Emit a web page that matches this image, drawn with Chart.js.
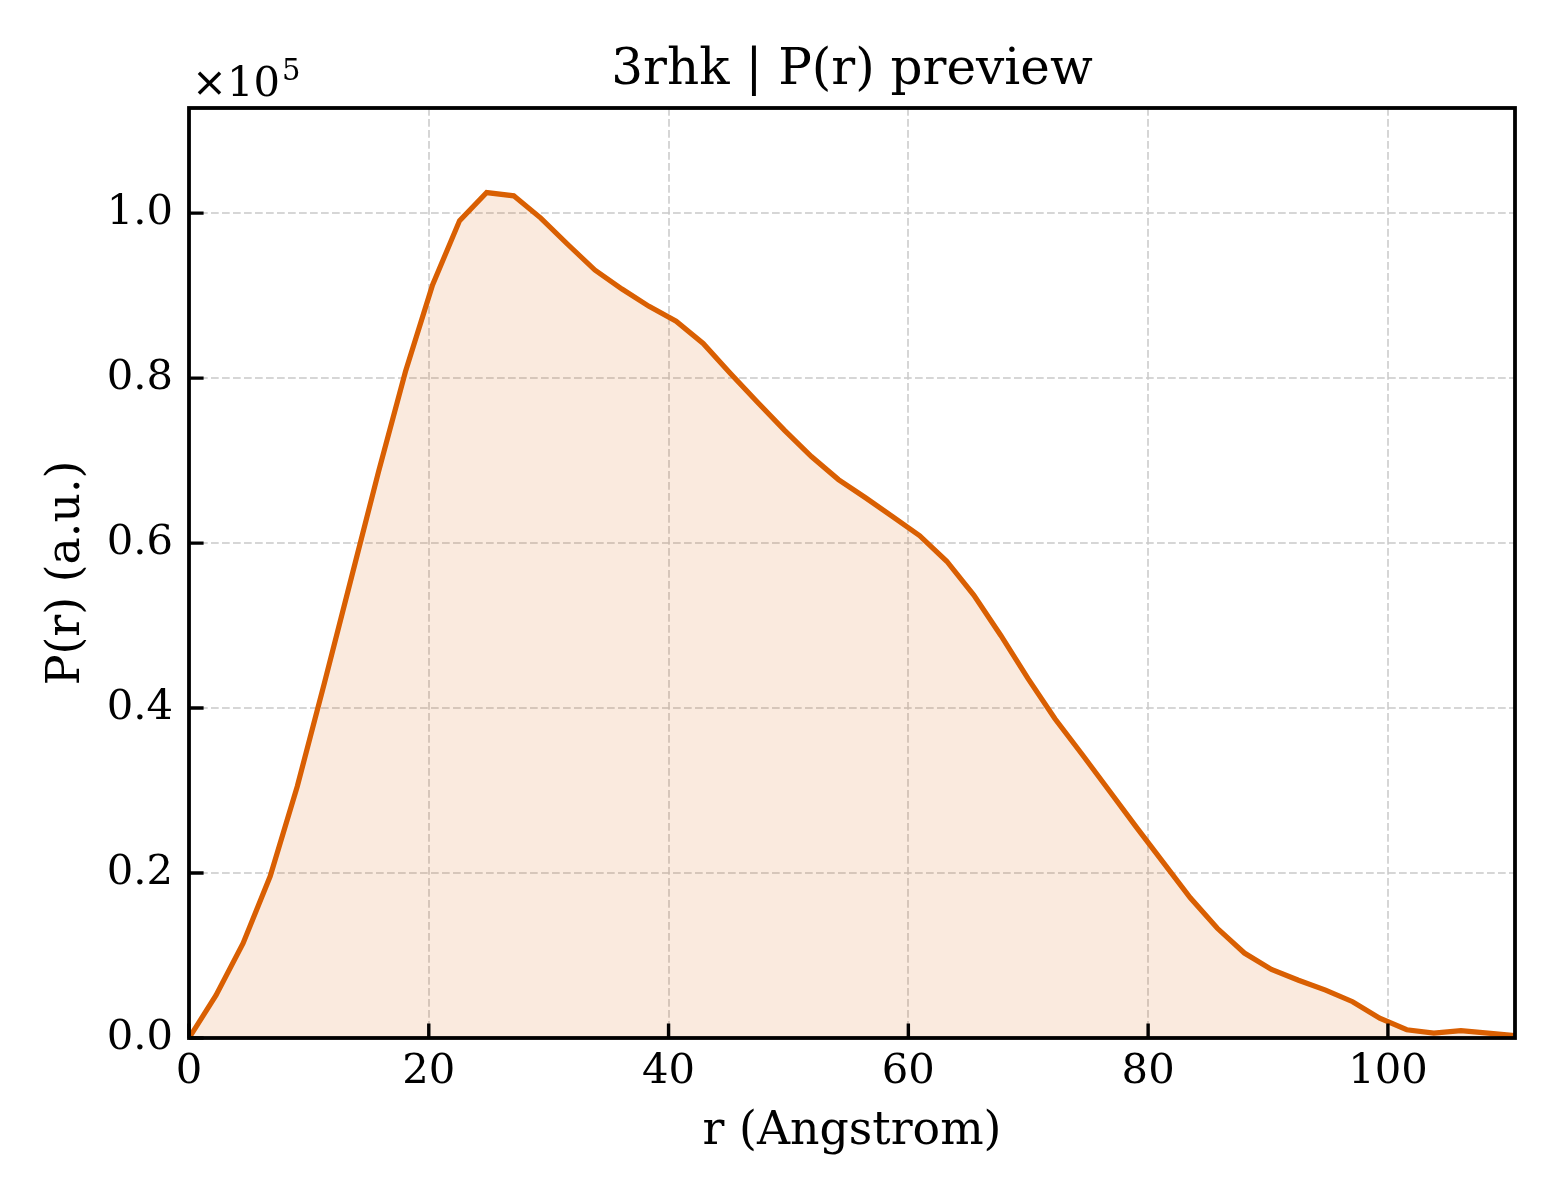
<!DOCTYPE html>
<html><head><meta charset="utf-8">
<script src="https://cdn.jsdelivr.net/npm/chart.js@4.4.1/dist/chart.umd.min.js"></script>
<style>html,body{margin:0;padding:0;background:#fff}canvas{display:block}</style>
</head><body>
<canvas id="c" width="1560" height="1200"></canvas>
<script>
// r (Angstrom)
const rValues = [0, 2.257, 4.514, 6.771, 9.029, 11.286, 13.543, 15.800, 18.057, 20.314,
  22.571, 24.829, 27.086, 29.343, 31.600, 33.857, 36.114, 38.371, 40.629, 42.886,
  45.143, 47.400, 49.657, 51.914, 54.171, 56.429, 58.686, 60.943, 63.200, 65.457,
  67.714, 69.971, 72.229, 74.486, 76.743, 79.000, 81.257, 83.514, 85.771, 88.029,
  90.286, 92.543, 94.800, 97.057, 99.314, 101.571, 103.829, 106.086, 108.343, 110.600];
// P(r) (a.u.)
const pValues = [0, 5200, 11500, 19600, 30500, 43000, 55800, 68600, 80800, 91300,
  99100, 102500, 102100, 99400, 96200, 93100, 90800, 88700, 86900, 84200,
  80600, 77100, 73700, 70500, 67700, 65500, 63200, 60900, 57800, 53700,
  48800, 43600, 38700, 34400, 30000, 25600, 21300, 17000, 13300, 10300,
  8300, 7000, 5800, 4400, 2400, 1000, 600, 900, 600, 300];
const xTickValues = [0, 20, 40, 60, 80, 100];
const yTickValues = [0, 20000, 40000, 60000, 80000, 100000];
const xMax = 110.6;
const yMax = 112750;
const titleText = '3rhk | P(r) preview';
const xLabel = 'r (Angstrom)';
const yLabel = 'P(r) (a.u.)';

const FONT = "'DejaVu Serif', serif";
const LINE = '#d95f02';

const framePlugin = {
  id: 'frame',
  afterDraw(chart) {
    const {ctx, chartArea: a, scales} = chart;
    ctx.save();
    ctx.strokeStyle = '#000';
    ctx.lineWidth = 3.4;
    // inward ticks
    ctx.beginPath();
    scales.x.ticks.forEach(t => {
      const px = scales.x.getPixelForValue(t.value);
      ctx.moveTo(px, a.bottom);
      ctx.lineTo(px, a.bottom - 14.6);
    });
    scales.y.ticks.forEach(t => {
      const py = scales.y.getPixelForValue(t.value);
      ctx.moveTo(a.left, py);
      ctx.lineTo(a.left + 14.6, py);
    });
    ctx.stroke();
    // spines
    ctx.lineWidth = 3.8;
    ctx.strokeRect(a.left, a.top, a.right - a.left, a.bottom - a.top);
    // offset text
    ctx.fillStyle = '#000';
    ctx.textBaseline = 'alphabetic';
    ctx.textAlign = 'left';
    ctx.font = "41.7px 'DejaVu Sans'";
    ctx.fillText('\u00d7', a.left + 3, 96);
    const wx = ctx.measureText('\u00d7').width;
    ctx.font = "41.7px " + FONT;
    ctx.fillText('10', a.left + 3 + wx, 96);
    const w10 = ctx.measureText('10').width;
    ctx.font = "29px " + FONT;
    ctx.fillText('5', a.left + 5 + wx + w10, 80);
    ctx.restore();
  }
};

new Chart(document.getElementById('c'), {
  type: 'line',
  data: {
    datasets: [{
      data: rValues.map((r, i) => ({x: r, y: pValues[i]})),
      borderColor: LINE,
      borderWidth: 5.2,
      backgroundColor: 'rgba(217,95,2,0.13)',
      fill: 'origin',
      pointRadius: 0,
      tension: 0
    }]
  },
  options: {
    responsive: false,
    animation: false,
    devicePixelRatio: 1,
    layout: {padding: {left: 0, right: 45, top: 0, bottom: 0}},
    plugins: {
      legend: {display: false},
      tooltip: {enabled: false},
      title: {
        display: true, text: titleText, color: '#000', fullSize: false,
        font: {family: FONT, size: 50, weight: 'normal', lineHeight: 1.2},
        padding: {top: 41, bottom: 7}
      }
    },
    scales: {
      x: {
        type: 'linear', min: 0, max: xMax,
        afterBuildTicks: s => { s.ticks = xTickValues.map(v => ({value: v})); },
        ticks: {
          color: '#000', font: {family: FONT, size: 41.7}, padding: 9,
          maxRotation: 0, autoSkip: false, includeBounds: false,
          callback: v => String(v)
        },
        grid: {color: 'rgba(200,200,200,0.75)', lineWidth: 2, drawTicks: false},
        border: {display: false, dash: [7.7, 3.3]},
        title: {display: true, text: xLabel, color: '#000',
          font: {family: FONT, size: 45.8, lineHeight: 1.2}, padding: {top: 0, bottom: 40}},
        afterFit: s => { s.height = 162; }
      },
      y: {
        type: 'linear', min: 0, max: yMax,
        afterBuildTicks: s => { s.ticks = yTickValues.map(v => ({value: v})); },
        ticks: {
          color: '#000', font: {family: FONT, size: 41.7}, padding: 16,
          autoSkip: false, includeBounds: false,
          callback: v => (v / 1e5).toFixed(1)
        },
        grid: {color: 'rgba(200,200,200,0.75)', lineWidth: 2, drawTicks: false},
        border: {display: false, dash: [7.7, 3.3]},
        title: {display: true, text: yLabel, color: '#000',
          font: {family: FONT, size: 45.8, lineHeight: 1.2}, padding: {top: 40, bottom: 0}},
        afterFit: s => { s.width = 189; }
      }
    }
  },
  plugins: [framePlugin]
});
</script>
</body></html>
